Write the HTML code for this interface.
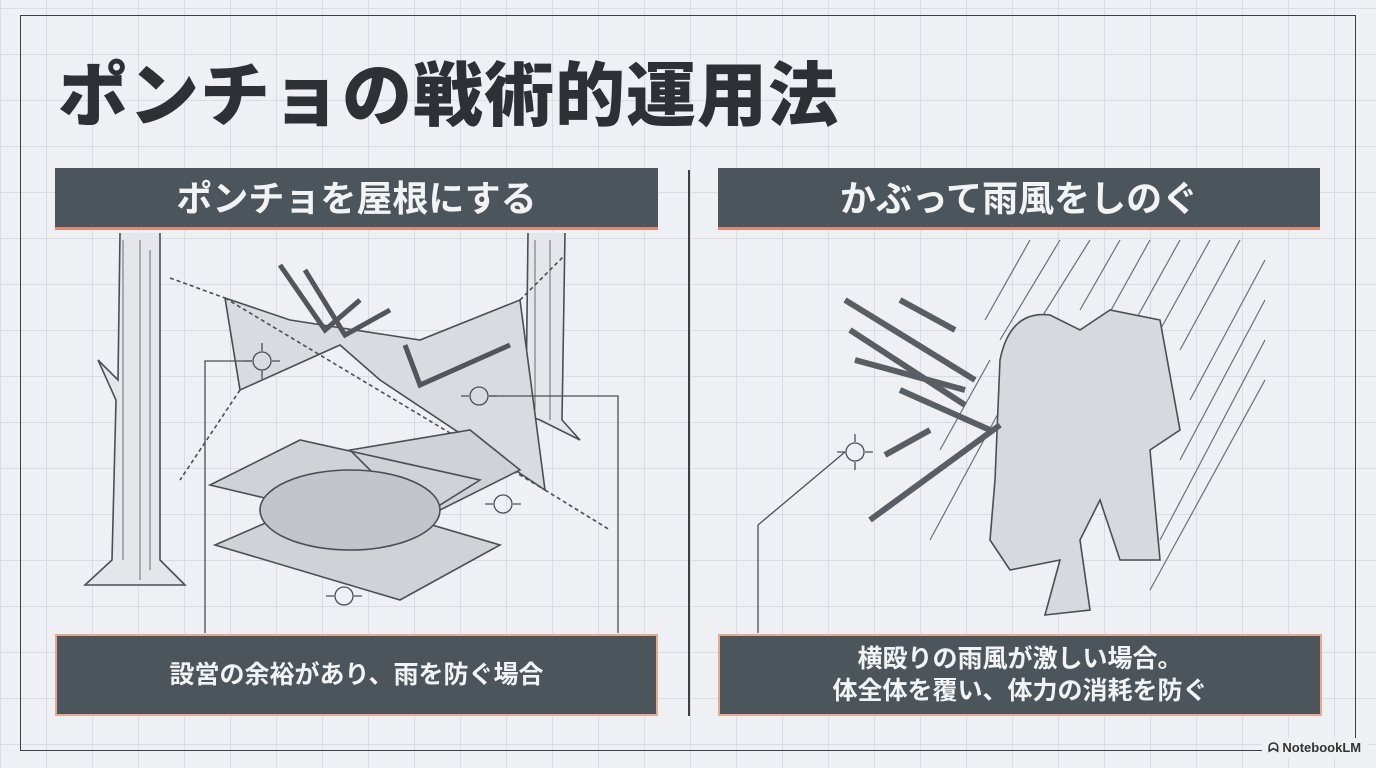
<!DOCTYPE html>
<html><head><meta charset="utf-8"><style>
html,body{margin:0;padding:0}
body{width:1376px;height:768px;position:relative;overflow:hidden;background:#eef0f4;
background-image:linear-gradient(#d9dde3 1px,transparent 1px),linear-gradient(90deg,#d9dde3 1px,transparent 1px);
background-size:46px 46px;background-position:0 8px;font-family:"Liberation Sans","Noto Sans CJK JP",sans-serif}
.frame{position:absolute;left:20px;top:15px;width:1336px;height:736px;border:1.5px solid #3b4046;box-sizing:border-box}
.title{position:absolute;left:58px;top:56px;font-size:70px;font-weight:900;color:#2d3135;letter-spacing:1px;line-height:80px;white-space:nowrap}
.hdr{position:absolute;top:168px;height:62px;background:#4d555c;border-bottom:3px solid #d98b78;box-sizing:border-box;color:#f2f3f4;font-size:36px;font-weight:700;text-align:center;line-height:62px}
.box{position:absolute;top:634px;height:82px;background:#4d555c;border:2px solid #e8a78f;box-sizing:border-box;color:#f2f3f4;font-size:25px;font-weight:700;text-align:center;display:flex;align-items:center;justify-content:center;line-height:32px}
.div{position:absolute;left:688px;top:170px;width:1.5px;height:546px;background:#3b4046}
.nb{position:absolute;left:1262px;top:738px;font-size:13px;color:#333;font-weight:700;background:#eef0f4;padding:2px 6px}
svg{position:absolute;left:0;top:0}
</style></head><body>
<div class="frame"></div>
<div class="title">ポンチョの戦術的運用法</div>
<div class="hdr" style="left:55px;width:603px">ポンチョを屋根にする</div>
<div class="hdr" style="left:718px;width:602px">かぶって雨風をしのぐ</div>
<div class="div"></div>
<svg width="1376" height="768" fill="none" stroke="#4a4f55" stroke-width="1.6">
<path d="M120 233 L118 380 L98 360 L116 400 L112 560 L85 585 L185 585 L160 560 L160 233" fill="#e4e6ea"/>
<path d="M123 240 V560 M140 240 V580 M150 250 V570" stroke-width="0.8"/>
<path d="M528 233 L526 400 L510 410 L540 420 L580 440 L562 420 L565 233" fill="#e4e6ea"/>
<path d="M535 240 V410 M550 240 V420" stroke-width="0.8"/>
<path d="M225 298 L290 320 L420 340 L520 300 L545 490 L380 380 L340 345 L240 390 Z" fill="#d8dbe0"/>
<path d="M225 298 L545 490 M170 278 L225 298 M520 300 L565 255 M240 390 L180 480 M545 490 L610 530" stroke-dasharray="4 3"/>
<path d="M210 485 L300 440 L480 480 L400 530 Z M215 545 L330 495 L500 545 L400 600 Z M350 450 L470 430 L520 470 L420 520 Z" fill="#cfd3d8"/>
<ellipse cx="350" cy="510" rx="90" ry="40" fill="#c2c6cc"/>
<g stroke="#50565c" stroke-width="5"><path d="M280 265 L325 330 L360 300"/><path d="M305 270 L345 335 L390 310"/><path d="M405 345 L420 385 L510 345"/></g>
<g stroke="#4a4f55" stroke-width="1.3">
<circle cx="262" cy="361" r="9"/><circle cx="479" cy="396" r="9"/><circle cx="503" cy="504" r="9"/><circle cx="344" cy="596" r="9"/><circle cx="855" cy="452" r="9"/>
<path d="M252 361h-8M272 361h8M262 351v-8M262 371v8 M469 396h-8M489 396h8 M493 504h-8M513 504h8 M334 596h-8M354 596h8 M845 452h-8M865 452h8M855 442v-8M855 462v8"/>
<path d="M252 361 H205 V633 M489 396 H618 V633 M845 452 L758 525 V633"/>
</g>
<g stroke="#6a7076" stroke-width="1.2">
<path d="M1030 240 L985 320 M1060 240 L1000 340 M1090 240 L1040 320 M1120 240 L1080 310 M1150 240 L1100 330 M1180 240 L1130 330 M1210 240 L1160 330 M1240 240 L1180 350 M1265 260 L1190 400 M1265 300 L1180 460 M1265 340 L1160 540 M1265 380 L1150 590 M990 360 L940 450 M1000 410 L930 540"/>
</g>
<path d="M1000 360 Q1010 310 1050 315 L1080 330 L1110 310 L1160 320 L1180 430 L1150 450 L1160 560 L1120 560 L1100 500 L1080 540 L1090 610 L1045 615 L1060 560 L1010 570 L990 540 L995 480 Z" fill="#d6d9de"/>
<g stroke="#585e64" stroke-width="6"><path d="M845 300 L975 380"/><path d="M850 330 L965 405"/><path d="M855 360 L965 390"/><path d="M900 300 L955 330"/><path d="M885 455 L930 430"/><path d="M1000 425 L870 520"/><path d="M900 390 L990 430"/></g>
</svg>
<div class="box" style="left:55px;width:603px">設営の余裕があり、雨を防ぐ場合</div>
<div class="box" style="left:718px;width:604px">横殴りの雨風が激しい場合。<br>体全体を覆い、体力の消耗を防ぐ</div>
<div class="nb">ᗣ NotebookLM</div>
</body></html>
